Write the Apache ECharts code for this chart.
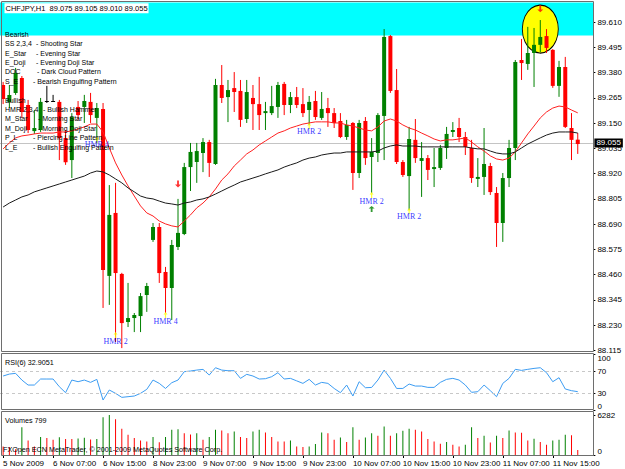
<!DOCTYPE html>
<html><head><meta charset="utf-8">
<script src="https://cdn.jsdelivr.net/npm/echarts@6/dist/echarts.min.js"></script>
<style>html,body{margin:0;padding:0;background:#fff}#c{width:625px;height:469px}</style>
</head><body><div id="c"></div><script>
// ---- data (CHFJPY, H1) ----
const opens = [89.324,89.247,89.288,89.356,89.233,89.114,89.119,89.251,89.251,89.247,
 89.082,88.982,89.224,89.224,89.247,89.174,89.215,88.454,88.741,88.463,
 88.244,88.262,88.271,88.367,88.618,88.677,88.472,88.399,88.586,88.645,
 88.950,88.973,89.014,89.064,88.964,89.324,89.269,89.310,89.297,89.169,
 89.265,89.237,89.196,89.196,89.224,89.329,89.233,89.269,89.237,89.210,
 89.251,89.174,89.219,89.196,89.160,89.087,89.151,88.923,89.160,88.996,
 89.014,89.183,89.547,89.301,88.973,88.909,89.074,88.978,88.991,88.941,
 88.946,89.037,89.110,89.128,89.087,89.037,88.896,88.905,88.955,88.832,
 88.695,88.900,89.037,89.438,89.420,89.470,89.507,89.547,89.484,89.320,
 89.406,89.128,89.075];
const closes = [89.260,89.279,89.379,89.201,89.119,89.128,89.247,89.251,89.251,89.082,
 88.972,89.178,89.187,89.251,89.187,89.219,88.481,88.732,88.467,88.239,
 88.262,88.276,88.362,88.408,88.677,88.467,88.399,88.595,88.650,88.950,
 89.019,89.023,89.064,88.969,89.324,89.265,89.301,89.292,89.165,89.292,
 89.237,89.187,89.205,89.228,89.324,89.233,89.269,89.233,89.196,89.247,
 89.178,89.215,89.196,89.151,89.087,89.142,88.923,89.151,88.991,89.019,
 89.187,89.543,89.297,88.973,88.914,89.078,88.991,88.991,88.937,88.950,
 89.037,89.101,89.119,89.087,89.042,88.900,88.905,88.964,88.836,88.695,
 88.900,89.037,89.429,89.424,89.470,89.507,89.543,89.493,89.320,89.406,
 89.133,89.074,89.055];
const lows = [89.237,89.219,89.279,89.174,89.105,89.101,89.110,89.242,89.247,88.982,
 88.960,88.900,89.165,89.151,89.151,89.060,88.308,88.322,88.153,88.125,
 88.221,88.198,88.198,88.290,88.609,88.422,88.285,88.253,88.572,88.640,
 88.841,88.878,88.927,88.905,88.960,89.242,89.155,89.201,89.133,89.151,
 89.119,89.119,89.119,89.187,89.174,89.187,89.196,89.219,89.178,89.142,
 89.165,89.165,89.133,89.128,89.082,89.074,88.846,88.900,88.960,88.832,
 88.973,88.982,89.288,88.964,88.905,88.754,88.969,88.814,88.891,88.859,
 88.937,88.987,89.087,89.064,89.005,88.878,88.859,88.823,88.823,88.586,
 88.609,88.859,88.982,89.347,89.393,89.315,89.474,89.470,89.311,89.270,
 89.128,88.982,89.010];
const highs = [89.338,89.324,89.402,89.365,89.256,89.210,89.265,89.320,89.279,89.256,
 89.119,89.196,89.251,89.279,89.288,89.242,89.242,88.868,88.878,88.468,
 88.422,88.285,88.376,88.422,88.695,88.695,88.495,88.618,88.805,88.969,
 89.060,89.060,89.082,89.074,89.352,89.415,89.347,89.383,89.347,89.347,
 89.324,89.361,89.247,89.320,89.338,89.338,89.292,89.315,89.310,89.274,
 89.297,89.292,89.265,89.219,89.196,89.165,89.155,89.165,89.178,89.082,
 89.196,89.579,89.552,89.397,88.982,89.133,89.169,89.064,89.005,89.037,
 89.051,89.133,89.155,89.174,89.110,89.074,88.991,89.128,88.969,88.859,
 88.923,89.074,89.438,89.534,89.589,89.584,89.620,89.579,89.488,89.434,
 89.452,89.196,89.105];
const maFast = [89.033,89.060,89.083,89.092,89.096,89.101,89.105,89.105,89.105,89.110,
 89.110,89.115,89.124,89.133,89.146,89.146,89.110,89.037,88.969,88.914,
 88.864,88.818,88.773,88.741,88.727,88.704,88.691,88.682,88.677,88.704,
 88.732,88.764,88.786,88.814,88.850,88.891,88.919,88.955,88.982,89.010,
 89.028,89.051,89.069,89.087,89.105,89.115,89.128,89.137,89.146,89.151,
 89.156,89.156,89.156,89.151,89.151,89.142,89.137,89.128,89.119,89.115,
 89.133,89.160,89.169,89.160,89.142,89.128,89.119,89.105,89.092,89.078,
 89.069,89.074,89.074,89.078,89.083,89.064,89.042,89.023,89.001,88.987,
 88.982,88.991,89.019,89.060,89.101,89.137,89.174,89.201,89.219,89.228,
 89.224,89.210,89.197];
const maSlow = [88.768,88.786,88.800,88.814,88.823,88.837,88.846,88.855,88.864,88.873,
 88.882,88.891,88.900,88.909,88.923,88.932,88.928,88.914,88.896,88.878,
 88.855,88.837,88.818,88.809,88.805,88.795,88.786,88.782,88.777,88.786,
 88.791,88.800,88.805,88.814,88.827,88.841,88.855,88.868,88.882,88.891,
 88.900,88.909,88.919,88.928,88.937,88.950,88.960,88.969,88.982,88.991,
 88.996,89.005,89.010,89.014,89.014,89.019,89.019,89.019,89.019,89.019,
 89.023,89.037,89.046,89.051,89.046,89.046,89.046,89.042,89.042,89.042,
 89.042,89.042,89.042,89.042,89.042,89.037,89.033,89.033,89.023,89.014,
 89.010,89.010,89.019,89.037,89.055,89.069,89.083,89.096,89.105,89.110,
 89.110,89.110,89.105];
const rsi = [61,64.5,65.8,53.8,44.8,44.8,55.6,55.6,55.6,41.8,
 31.1,53.8,50.8,53.8,49.6,55,17.9,35.9,29.9,22.7,
 23.9,25.1,29.9,37.1,53.8,47.8,38.7,49,53.8,68.8,
 70,71.7,72.9,62.8,75.9,71.7,70.5,70.5,56.8,64,
 61,55.6,56.2,59.8,67,55.6,56.8,52.3,47.8,55,
 44.8,49.6,47.8,38.7,31.1,44.8,25.1,50.8,40,40.5,
 53.8,71.7,56.8,38.7,38.7,46.6,43,43,40.6,40.6,
 49.6,55,56.8,53.8,44.8,31.7,32.9,44.8,34.7,23.9,
 47.8,56.8,73,71.1,73,74.7,75.9,67,50.8,58,
 37.7,34.7,32.9051];
const volumes = [1352,1248,900,4368,2288,1352,2808,2652,2392,2800,
 2500,2500,2600,2700,2450,2496,5928,6282,5616,4108,
 3172,2652,2288,2132,2808,2000,2808,3952,4056,3432,
 3224,3432,2392,2808,3952,3848,3432,3692,2808,2652,
 3692,3952,3536,2808,2132,2132,2288,1352,1248,1352,
 1716,3536,3420,2392,2756,2028,4368,2392,2756,3432,
 3016,4472,3016,3432,3796,4108,3952,3692,2496,2132,
 1768,2028,1612,1352,1612,4368,2652,3016,1976,3016,
 2652,3848,3536,3500,2288,2548,2028,1612,2288,2392,
 3172,3120,799];
// time axis labels (bar index -> label)
const tickBars = [0,8,16,24,32,40,48,56,64,72,80,88];
const tickLabels = ['5 Nov 2009','6 Nov 07:00','6 Nov 15:00','8 Nov 23:00','9 Nov 07:00','9 Nov 15:00',
 '9 Nov 23:00','10 Nov 07:00','10 Nov 15:00','10 Nov 23:00','11 Nov 07:00','11 Nov 15:00'];
const priceTicks = [88.115,88.230,88.345,88.460,88.575,88.690,88.805,88.920,89.035,89.150,89.265,89.380,89.495,89.610];
const rsiTicks = [0,30,70,100];
const rsiLevels = [30,70];
const volTicks = [0,6282];
// chart annotations
const patternBars = [15,18,26,49,59,65];
const patternNames = ['HMR 4','HMR 2','HMR 4','HMR 2','HMR 2','HMR 2'];
const patternArrowPrice = [89.074,88.185,88.276,89.137,88.823,88.750];
const patternLabelPrice = [89.051,88.155,88.244,89.110,88.793,88.725];
const upSignalBars = [59], upSignalPrice = [88.759];
const downSignalBars = [28,86], downSignalPrice = [88.873,89.671];
const highlightBar = 86, highlightPrice = 89.579;
const zoneLow = 89.55, zoneHigh = 89.70;
const bidPrice = 89.055;
const title = 'CHFJPY,H1\u00a0 89.075 89.105 89.010 89.055';
const legendRows = [
 ['Bearish',''],['SS 2,3,4','- Shooting Star'],['E_Star','- Evening Star'],['E_Doji','- Evening Doji Star'],
 ['DOC','- Dark Cloud Pattern'],['S_E','- Bearish Engulfing Pattern'],null,['Bullish',''],
 ['HMR 2,3,4','- Bullish Hammer'],['M_Star','- Morning Star'],['M_Doji','- Morning Doji Star'],
 ['P_L','- Piercing Line Pattern'],['L_E','- Bullish Engulfing Pattern']];
const legendDashX = [0,36,36,36,37,33,0,0,43,38,38,33,33];

// ---- chart ----
const N = opens.length;
const cats = []; for (let i = 0; i < N + 2; i++) cats.push(String(i));
const chart = echarts.init(document.getElementById('c'), null, {renderer:'svg', width:625, height:469});
const FONT = '"Liberation Sans", Arial, sans-serif';
const candleData = opens.map((o,i)=>[i, o, closes[i], lows[i], highs[i]]);
const volData = volumes.map((v,i)=>({value:v, itemStyle:{color: (i>0 && v>volumes[i-1]) ? '#008000' : '#ff0000'}}));

function renderCandle(params, api){
  const i = api.value(0), o = api.value(1), c = api.value(2), l = api.value(3), h = api.value(4);
  const pO = api.coord([i,o]), pC = api.coord([i,c]), pL = api.coord([i,l]), pH = api.coord([i,h]);
  const x = pO[0];
  const col = c > o ? '#008000' : (c < o ? '#ff0000' : '#000000');
  const top = Math.min(pO[1], pC[1]);
  const hgt = Math.max(1, Math.abs(pO[1]-pC[1]));
  return {type:'group', children:[
    {type:'line', shape:{x1:x, y1:pH[1], x2:x, y2:pL[1]}, style:{stroke:col, lineWidth:1}},
    {type:'rect', shape:{x:x-2, y:top, width:4, height:hgt}, style:{fill:col}}
  ]};
}
const upArrow = 'path://M5,0 L10,5 L6.5,5 L6.5,12 L3.5,12 L3.5,5 L0,5 Z';
const downArrow = 'path://M3.5,0 L6.5,0 L6.5,7 L10,7 L5,12 L0,7 L3.5,7 Z';

const graphics = [];
graphics.push({type:'rect', shape:{x:1.5,y:1.5,width:592,height:350}, style:{fill:null, stroke:'#6e6e6e', lineWidth:1}, z:20});
graphics.push({type:'rect', shape:{x:1.5,y:353.5,width:592,height:56}, style:{fill:null, stroke:'#6e6e6e', lineWidth:1}, z:20});
graphics.push({type:'rect', shape:{x:1.5,y:411.5,width:592,height:44}, style:{fill:null, stroke:'#6e6e6e', lineWidth:1}, z:20});
graphics.push({type:'text', x:4.5, y:8.3, z:30, style:{text:title, font:'7.5px '+FONT, fill:'#000', verticalAlign:'middle', backgroundColor:'#fff', padding:[1,1,1,1]}});
legendRows.forEach((r, k) => {
  if (!r) return;
  const y = 34.3 + k * 9.4;
  graphics.push({type:'text', x:5, y:y, z:30, style:{text:r[0], font:'7px '+FONT, fill:'#000', verticalAlign:'middle'}});
  if (r[1]) graphics.push({type:'text', x:legendDashX[k], y:y, z:30, style:{text:r[1], font:'7px '+FONT, fill:'#000', verticalAlign:'middle'}});
});
graphics.push({type:'text', x:5, y:362.5, z:30, style:{text:'RSI(6) ' + rsi[N-1], font:'7.2px '+FONT, fill:'#000', verticalAlign:'middle'}});
graphics.push({type:'text', x:5, y:420, z:30, style:{text:'Volumes ' + volumes[N-1], font:'7.2px '+FONT, fill:'#000', verticalAlign:'middle'}});
graphics.push({type:'text', x:3, y:449.5, z:30, style:{text:'FXOpen ECN MetaTrader, \u00a9 2001-2009 MetaQuotes Software Corp.', font:'7.2px '+FONT, fill:'#000', verticalAlign:'middle'}});

const gridLeft = -0.375, gridWidth = 593.75;
const option = {
  animation:false,
  backgroundColor:'#ffffff',
  textStyle:{fontFamily:FONT},
  grid:[
    {left:gridLeft, top:2.5, width:gridWidth, height:347.8},
    {left:gridLeft, top:354.3, width:gridWidth, height:55.7},
    {left:gridLeft, top:415, width:gridWidth, height:40}
  ],
  xAxis:[
    {type:'category', gridIndex:0, data:cats, show:false},
    {type:'category', gridIndex:1, data:cats, show:false},
    {type:'category', gridIndex:2, data:cats,
      axisLine:{show:false},
      axisTick:{show:true, alignWithLabel:true, length:3, interval:(idx)=>tickBars.includes(idx), lineStyle:{color:'#000'}},
      axisLabel:{interval:(idx)=>tickBars.includes(idx), align:'left', margin:4, fontSize:8, color:'#000',
        formatter:(v)=>{const k = tickBars.indexOf(Number(v)); return k>=0 ? tickLabels[k] : '';}},
      splitLine:{show:false}}
  ],
  yAxis:[
    {type:'value', gridIndex:0, position:'right', min:88.115, max:zoneHigh, scale:true,
      axisLine:{show:false}, splitLine:{show:false},
      axisTick:{show:true, customValues:priceTicks, length:2, lineStyle:{color:'#000'}},
      axisLabel:{customValues:priceTicks, margin:4, fontSize:8, color:'#000', formatter:(v)=>v.toFixed(3)}},
    {type:'value', gridIndex:1, position:'right', min:0, max:100,
      axisLine:{show:false}, splitLine:{show:false},
      axisTick:{show:true, customValues:rsiTicks, length:2, lineStyle:{color:'#000'}},
      axisLabel:{customValues:rsiTicks, margin:4, fontSize:8, color:'#000', formatter:(v)=>String(v),
        verticalAlignMinLabel:'bottom', verticalAlignMaxLabel:'top'}},
    {type:'value', gridIndex:2, position:'right', min:0, max:6282,
      axisLine:{show:false}, splitLine:{show:false},
      axisTick:{show:true, customValues:volTicks, length:2, lineStyle:{color:'#000'}},
      axisLabel:{customValues:volTicks, margin:4, fontSize:8, color:'#000', formatter:(v)=>String(v),
        verticalAlignMinLabel:'bottom'}}
  ],
  series:[
    {name:'highlight', type:'scatter', xAxisIndex:0, yAxisIndex:0, z:1, silent:true,
      data:[[highlightBar, highlightPrice]], symbol:'circle', symbolSize:[36,48],
      itemStyle:{color:'#ffff00', borderColor:'#000', borderWidth:1, opacity:1},
      markArea:{silent:true, z:0, itemStyle:{color:'#00ffff', opacity:1}, data:[[{yAxis:zoneLow},{yAxis:zoneHigh}]]}},
    {name:'price', type:'custom', xAxisIndex:0, yAxisIndex:0, z:2, silent:true,
      renderItem:renderCandle, encode:{x:0, y:[1,2,3,4]}, data:candleData,
      markLine:{silent:true, symbol:'none', z:1, data:[{yAxis:bidPrice}],
        lineStyle:{color:'#c4c4c4', type:'solid', width:1},
        label:{show:true, position:'end', distance:1, formatter:bidPrice.toFixed(3), backgroundColor:'#000', color:'#fff', fontSize:8, padding:[1,2,0,2]}}},
    {name:'MA fast', type:'line', xAxisIndex:0, yAxisIndex:0, z:3, data:maFast, showSymbol:false, silent:true,
      lineStyle:{color:'#ff2020', width:1}},
    {name:'MA slow', type:'line', xAxisIndex:0, yAxisIndex:0, z:3, data:maSlow, showSymbol:false, silent:true,
      lineStyle:{color:'#1a1a1a', width:1}},
    {name:'patternArrows', type:'scatter', xAxisIndex:0, yAxisIndex:0, z:4, silent:true,
      data:patternBars.map((b,k)=>[b, patternArrowPrice[k]]), symbol:upArrow, symbolSize:[4,6], itemStyle:{color:'#ffff00'}},
    {name:'patternLabels', type:'scatter', xAxisIndex:0, yAxisIndex:0, z:4, silent:true,
      data:patternBars.map((b,k)=>({name:patternNames[k], value:[b, patternLabelPrice[k]]})), symbolSize:1, itemStyle:{color:'rgba(0,0,0,0)'},
      label:{show:true, position:'inside', formatter:(p)=>p.name, color:'#0000ff', fontSize:8, fontFamily:'"Liberation Serif", "Times New Roman", serif'}},
    {name:'upSignals', type:'scatter', xAxisIndex:0, yAxisIndex:0, z:4, silent:true,
      data:upSignalBars.map((b,k)=>[b, upSignalPrice[k]]), symbol:upArrow, symbolSize:[6,6], itemStyle:{color:'#008000'}},
    {name:'downSignals', type:'scatter', xAxisIndex:0, yAxisIndex:0, z:4, silent:true,
      data:downSignalBars.map((b,k)=>[b, downSignalPrice[k]]), symbol:downArrow, symbolSize:[6,7], itemStyle:{color:'#ff0000'}},
    {name:'RSI', type:'line', xAxisIndex:1, yAxisIndex:1, data:rsi, showSymbol:false, silent:true,
      lineStyle:{color:'#3c9cf2', width:1},
      markLine:{silent:true, symbol:'none', label:{show:false}, lineStyle:{color:'#c8c8c8', type:[3,3], width:1},
        data:rsiLevels.map(v=>({yAxis:v}))}},
    {name:'Volumes', type:'bar', xAxisIndex:2, yAxisIndex:2, data:volData, barWidth:1, silent:true}
  ],
  graphic:graphics
};
chart.setOption(option);
</script></body></html>
